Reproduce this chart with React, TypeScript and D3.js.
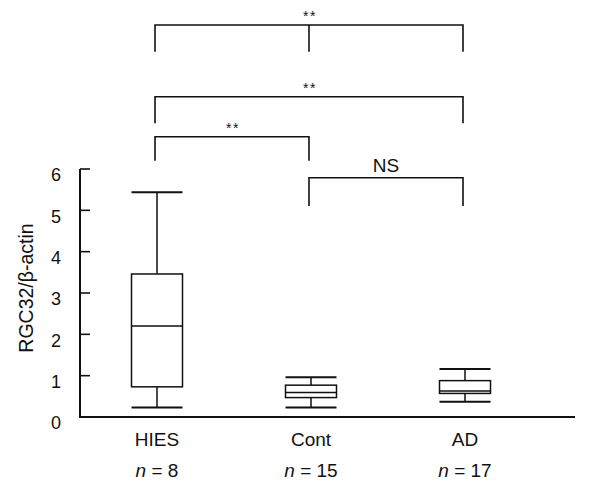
import React from "react";
import * as d3 from "d3";

const categories = ["HIES", "Cont", "AD"];
const nValues = [8, 15, 17];
const whiskerLow = [0.23, 0.23, 0.37];
const q1 = [0.73, 0.47, 0.57];
const medians = [2.2, 0.59, 0.63];
const q3 = [3.46, 0.77, 0.88];
const whiskerHigh = [5.44, 0.96, 1.16];
const yTicks = [0, 1, 2, 3, 4, 5, 6];

// significance brackets: [fromIndex, toIndex, label, middle tick index or -1]
const bracketFrom = [0, 0, 0, 1];
const bracketTo = [2, 2, 1, 2];
const bracketLabels = ["**", "**", "**", "NS"];
const bracketMid = [1, -1, -1, -1];

const W = 591;
const H = 483;
const FONT = "'Liberation Sans', Arial, Helvetica, sans-serif";

export default function App() {
  const x = d3.scalePoint<string>().domain(categories).range([80, 542]).padding(0.5);
  const y = d3.scaleLinear().domain([0, 6]).range([417, 169]);
  const boxW = 51;
  const bracketTop = [25, 96.7, 136.7, 177.7];
  const bracketDrop = [51.7, 123.3, 160.7, 206];

  return (
    <svg width={W} height={H} style={{ position: "absolute", left: 0, top: 0, background: "#fff" }} fontFamily={FONT}>
      <rect x={0} y={0} width={W} height={H} fill="#fff" />
      {/* axes */}
      <line x1={80} x2={80} y1={y(6)} y2={y(0)} stroke="#111" strokeWidth={2} />
      <line x1={79} x2={575} y1={y(0)} y2={y(0)} stroke="#111" strokeWidth={2} />
      {yTicks.map((t) => (
        <g key={t}>
          <line x1={80} x2={90} y1={y(t)} y2={y(t)} stroke="#111" strokeWidth={1.6} />
          <text x={61} y={y(t) + 6} dy="0.35em" textAnchor="end" fontSize={18} fill="#111">
            {t}
          </text>
        </g>
      ))}
      <text
        transform={`translate(33,288) rotate(-90)`}
        textAnchor="middle"
        fontSize={19.5}
        fill="#111"
      >
        RGC32/β-actin
      </text>
      {/* boxes */}
      {categories.map((c, i) => {
        const cx = x(c)!;
        return (
          <g key={c} stroke="#111" strokeWidth={1.5} fill="none">
            <line x1={cx} x2={cx} y1={y(whiskerHigh[i])} y2={y(q3[i])} />
            <line x1={cx} x2={cx} y1={y(q1[i])} y2={y(whiskerLow[i])} />
            <line x1={cx - boxW / 2} x2={cx + boxW / 2} y1={y(whiskerHigh[i])} y2={y(whiskerHigh[i])} strokeWidth={2} />
            <line x1={cx - boxW / 2} x2={cx + boxW / 2} y1={y(whiskerLow[i])} y2={y(whiskerLow[i])} strokeWidth={2} />
            <rect x={cx - boxW / 2} y={y(q3[i])} width={boxW} height={y(q1[i]) - y(q3[i])} />
            <line x1={cx - boxW / 2} x2={cx + boxW / 2} y1={y(medians[i])} y2={y(medians[i])} />
            <text x={cx} y={446} textAnchor="middle" fontSize={19} fill="#111" stroke="none">
              {c}
            </text>
            <text x={cx} y={477} textAnchor="middle" fontSize={19} fill="#111" stroke="none">
              <tspan fontStyle="italic">n</tspan> = {nValues[i]}
            </text>
          </g>
        );
      })}
      {/* brackets */}
      {bracketLabels.map((lab, k) => {
        const x1 = x(categories[bracketFrom[k]])! - 2;
        const x2 = x(categories[bracketTo[k]])! - 2;
        const top = bracketTop[k];
        const drop = bracketDrop[k];
        const mid = bracketMid[k] >= 0 ? x(categories[bracketMid[k]])! - 2 : null;
        return (
          <g key={k}>
            <path
              d={`M${x1},${drop}V${top}H${x2}V${drop}`}
              fill="none"
              stroke="#111"
              strokeWidth={1.6}
            />
            {mid !== null && <line x1={mid} x2={mid} y1={top} y2={drop} stroke="#111" strokeWidth={1.6} />}
            {lab === "NS" ? (
              <text x={(x1 + x2) / 2} y={172} textAnchor="middle" fontSize={19} fill="#111">
                {lab}
              </text>
            ) : (
              <text x={(x1 + x2) / 2 + 1} y={top - 4} textAnchor="middle" fontSize={14} letterSpacing={1.5} fill="#111">
                {lab}
              </text>
            )}
          </g>
        );
      })}
    </svg>
  );
}
